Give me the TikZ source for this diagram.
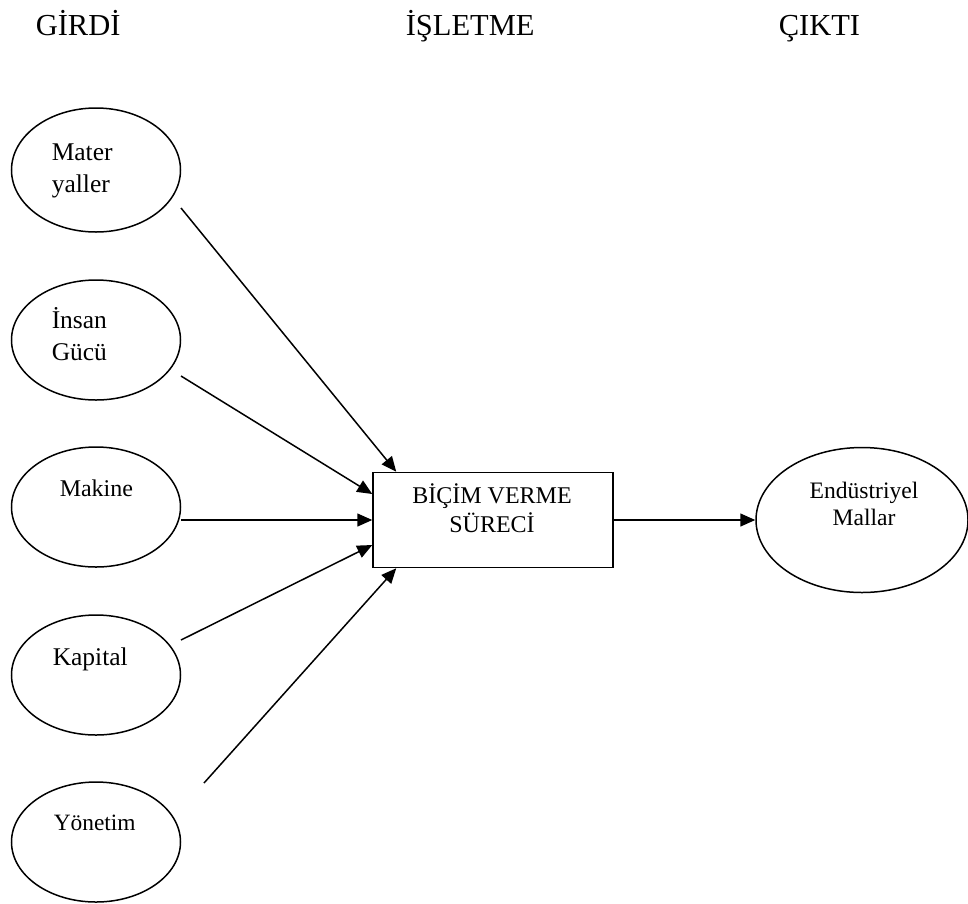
\documentclass[tikz,border=0pt]{standalone}
\usepackage{fontspec}
\setmainfont{Liberation Serif}
\usetikzlibrary{shapes.geometric,arrows.meta,calc}
\begin{document}
\begin{tikzpicture}[x=1pt,y=-1pt,line width=1.5pt,
  inp/.style={draw,ellipse,minimum width=169pt,minimum height=120pt,inner sep=0pt},
  lbl/.style={inner sep=0pt,anchor=base west},
  clbl/.style={inner sep=0pt,anchor=base},
  head/.style={inner sep=0pt,anchor=base west,font=\fontsize{30.5pt}{36pt}\selectfont},
  arr/.style={-{Triangle[length=15pt,width=13pt]},line width=1.5pt}]
\fill[white] (0,0) rectangle (968,903);
\useasboundingbox (0,0) rectangle (968,903);

% headings
\node[head] (h1) at (35,35) {GİRDİ};
\node[head] (h2) at (405,35) {İŞLETME};
\node[head] (h3) at (778,35) {ÇIKTI};

% input ellipses
\node[inp,minimum height=124pt] (mat) at (96,170) {};
\node[inp] (ins) at (96,340) {};
\node[inp] (mak) at (96,507) {};
\node[inp] (kap) at (96,675) {};
\node[inp] (yon) at (96,842) {};

% labels
\node[lbl,font=\fontsize{25.5pt}{30pt}\selectfont] (t1a) at (51,160) {Mater};
\node[lbl,font=\fontsize{25.5pt}{30pt}\selectfont] (t1b) at (51,192) {yaller};
\node[lbl,font=\fontsize{25.5pt}{30pt}\selectfont] (t2a) at (51,328) {İnsan};
\node[lbl,font=\fontsize{25.5pt}{30pt}\selectfont] (t2b) at (51,360) {Gücü};
\node[lbl,font=\fontsize{24pt}{28pt}\selectfont] (t3) at (59,496) {Makine};
\node[lbl,font=\fontsize{25.5pt}{30pt}\selectfont] (t4) at (52,665) {Kapital};
\node[lbl,font=\fontsize{23.4pt}{28pt}\selectfont] (t5) at (53,830) {Yönetim};

% process box
\node[draw,rectangle,minimum width=240pt,minimum height=95pt,inner sep=0pt] (box) at (493,520) {};
\node[clbl,font=\fontsize{24pt}{28pt}\selectfont] (b1) at (492,503) {BİÇİM VERME};
\node[clbl,font=\fontsize{24pt}{28pt}\selectfont] (b2) at (492,532) {SÜRECİ};

% output ellipse
\node[draw,ellipse,minimum width=212pt,minimum height=145pt,inner sep=0pt] (out) at (862,520) {};
\node[clbl,font=\fontsize{23.6pt}{28pt}\selectfont] (o1) at (864,498) {Endüstriyel};
\node[clbl,font=\fontsize{23.6pt}{28pt}\selectfont] (o2) at (864,525) {Mallar};

% connector start points
\coordinate (s1) at (181,208);
\coordinate (s2) at (181,376);
\coordinate (s3) at (mak.east);
\coordinate (s4) at (181,640);
\coordinate (s5) at (204,783);

\draw[arr] (s1) -- ($(box.north west)+(24,0)$);
\draw[arr] (s2) -- ($(box.west)+(0,-26)$);
\draw[arr] (s3 |- box.west) -- (box.west);
\draw[arr] (s4) -- ($(box.west)+(0,25)$);
\draw[arr] (s5) -- ($(box.south west)+(24,0)$);
\draw[arr] (box.east) -- (out.west);
\end{tikzpicture}
\end{document}
